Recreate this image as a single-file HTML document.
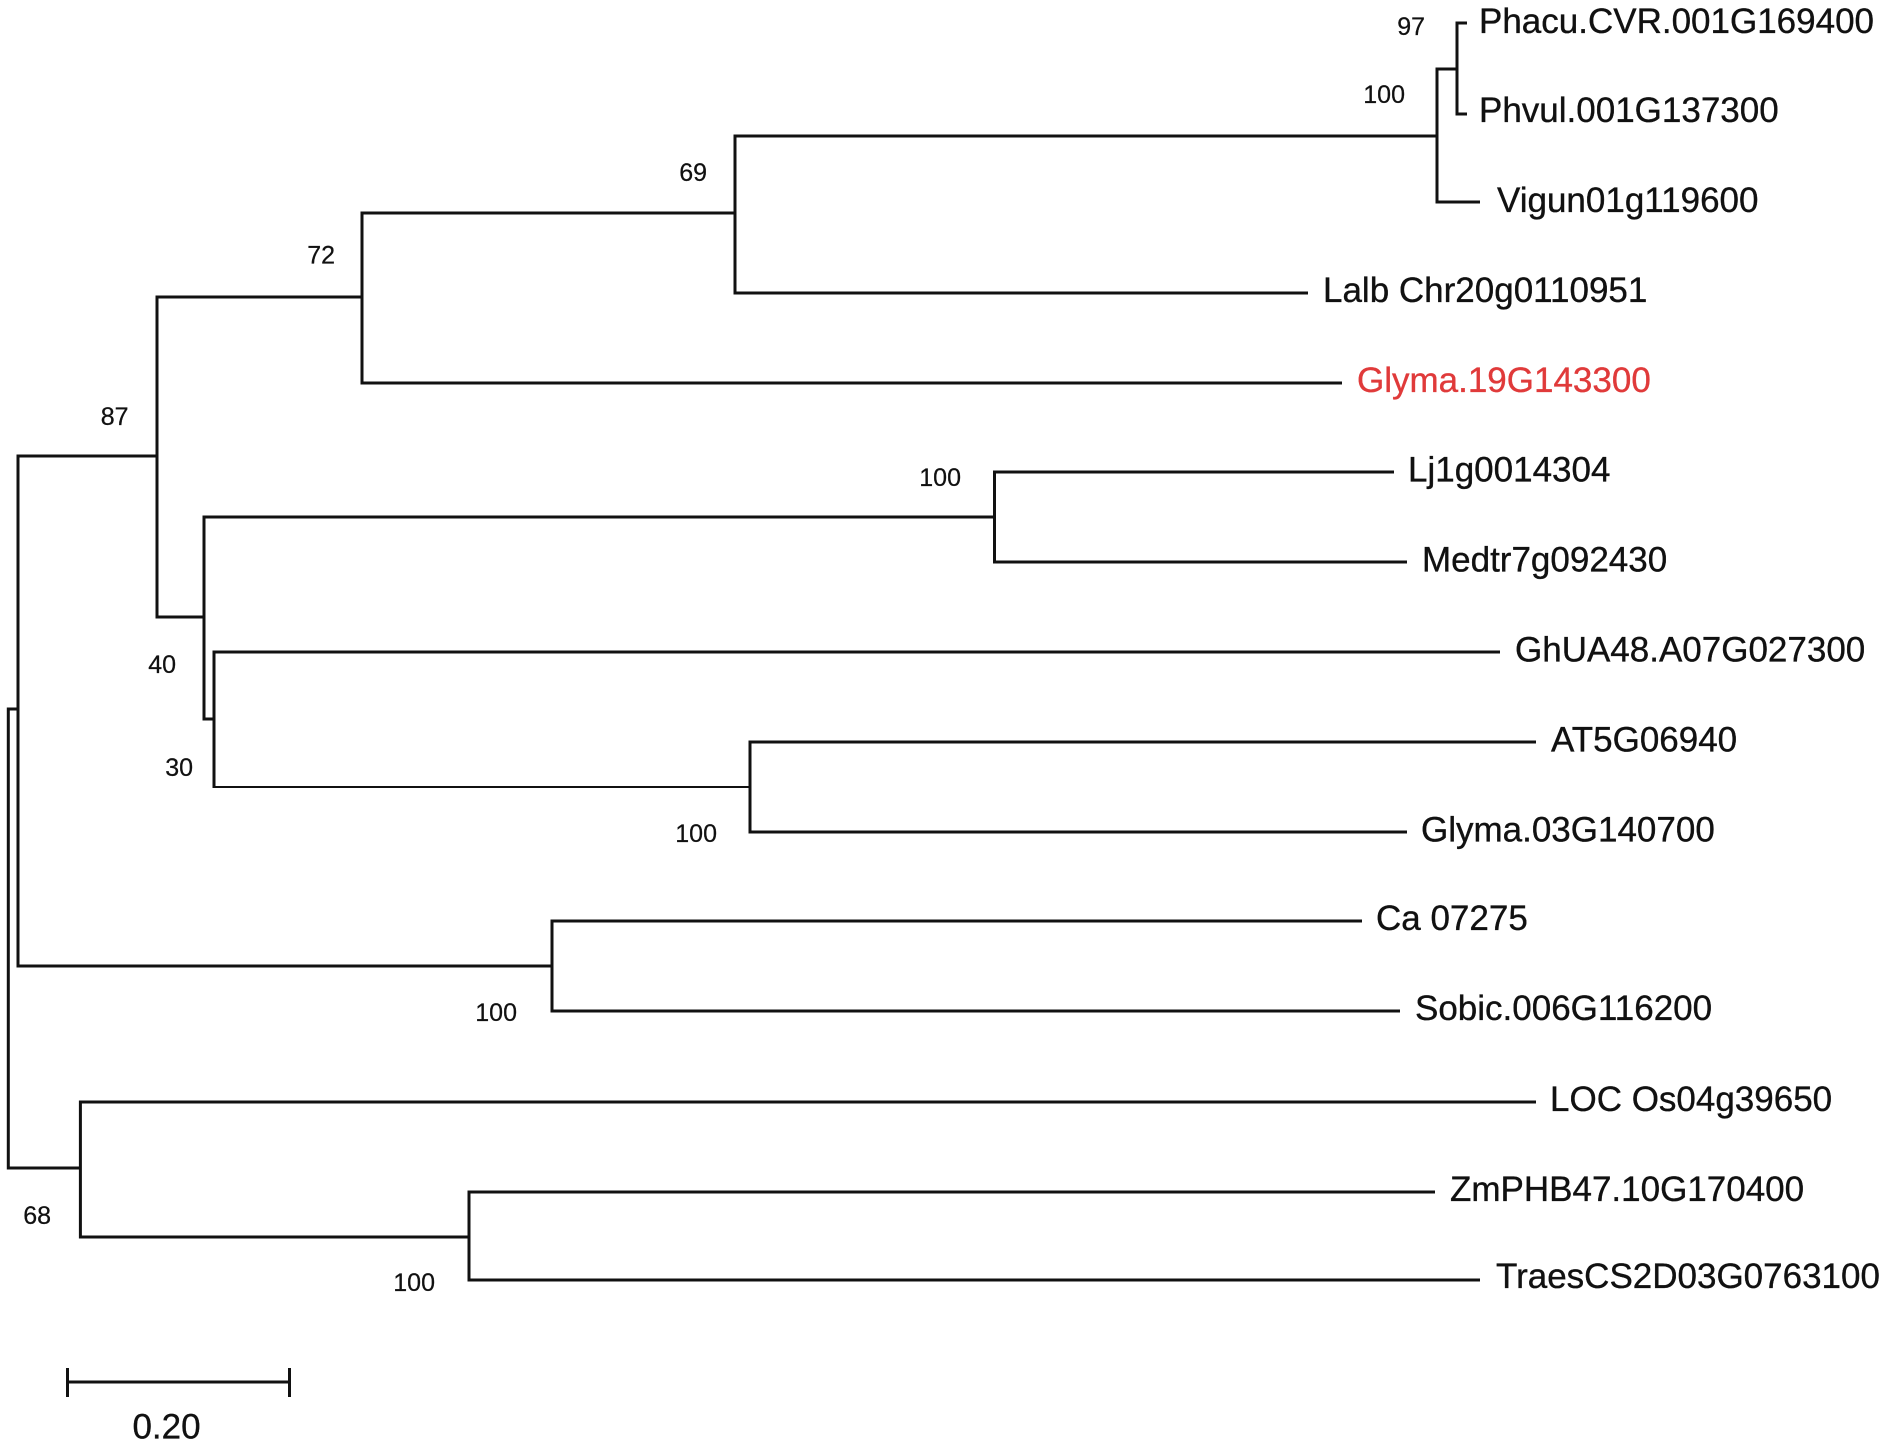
<!DOCTYPE html>
<html>
<head>
<meta charset="utf-8">
<style>
  html, body { margin: 0; padding: 0; background: #fff; }
  svg { display: block; }
  .leaf { font-family: "Liberation Sans", Arial, sans-serif; font-size: 35px; fill: #111; stroke: #111; stroke-width: 0.35; }
  .bs { font-family: "Liberation Sans", Arial, sans-serif; font-size: 25px; fill: #111; text-anchor: end; stroke: #111; stroke-width: 0.25; }
  .br { fill: none; stroke: #111; stroke-width: 3; stroke-linejoin: miter; stroke-linecap: butt; }
</style>
</head>
<body>
<svg width="1890" height="1448" viewBox="0 0 1890 1448" xmlns="http://www.w3.org/2000/svg">
  <rect x="0" y="0" width="1890" height="1448" fill="#fff"/>

  <!-- branches -->
  <path class="br" d="M18,709 H8.3 V1168 H80.4"/>
  <path class="br" d="M157,456 H18 V966 H552"/>
  <path class="br" d="M362,297 H157 V617 H204"/>
  <path class="br" d="M735,213 H362 V383 H1342"/>
  <path class="br" d="M1437,136 H735 V293 H1308"/>
  <path class="br" d="M1457,69 H1437 V202 H1480"/>
  <path class="br" d="M1467,23 H1457 V114 H1467"/>
  <path class="br" d="M994.5,517 H204 V719 H214"/>
  <path class="br" d="M1394,472 H994.5 V562 H1407"/>
  <path class="br" d="M1500,652 H214 V788"/>
  <path class="br" d="M214,787 H750" style="stroke-width:2"/>
  <path class="br" d="M1536,742 H750 V832 H1407"/>
  <path class="br" d="M1362,921 H552 V1011 H1400"/>
  <path class="br" d="M1536,1102 H80.4 V1237 H469"/>
  <path class="br" d="M1435,1192 H469 V1280 H1480"/>

  <!-- leaf labels -->
  <text class="leaf" x="1479" y="33">Phacu.CVR.001G169400</text>
  <text class="leaf" x="1479" y="122">Phvul.001G137300</text>
  <text class="leaf" x="1497" y="212">Vigun01g119600</text>
  <text class="leaf" x="1323" y="302">Lalb Chr20g0110951</text>
  <text class="leaf" x="1357" y="392" style="fill:#e03a3a;stroke:#e03a3a">Glyma.19G143300</text>
  <text class="leaf" x="1408" y="481.5">Lj1g0014304</text>
  <text class="leaf" x="1422" y="571.5">Medtr7g092430</text>
  <text class="leaf" x="1515" y="661.5">GhUA48.A07G027300</text>
  <text class="leaf" x="1551" y="751.5">AT5G06940</text>
  <text class="leaf" x="1421" y="841.5">Glyma.03G140700</text>
  <text class="leaf" x="1376" y="930">Ca 07275</text>
  <text class="leaf" x="1415" y="1020">Sobic.006G116200</text>
  <text class="leaf" x="1550" y="1111">LOC Os04g39650</text>
  <text class="leaf" x="1450" y="1201">ZmPHB47.10G170400</text>
  <text class="leaf" x="1496" y="1288">TraesCS2D03G0763100</text>

  <!-- bootstrap values -->
  <text class="bs" x="1425" y="35">97</text>
  <text class="bs" x="1405" y="103">100</text>
  <text class="bs" x="707" y="181">69</text>
  <text class="bs" x="335" y="263.5">72</text>
  <text class="bs" x="128.5" y="425">87</text>
  <text class="bs" x="961" y="486">100</text>
  <text class="bs" x="176" y="673">40</text>
  <text class="bs" x="193" y="776">30</text>
  <text class="bs" x="717" y="842">100</text>
  <text class="bs" x="517" y="1021">100</text>
  <text class="bs" x="51" y="1224">68</text>
  <text class="bs" x="435" y="1291">100</text>

  <!-- scale bar -->
  <path class="br" d="M67.5,1382 H289.5"/>
  <path class="br" d="M67.5,1368 V1397"/>
  <path class="br" d="M289.5,1368 V1397"/>
  <text class="leaf" x="166.5" y="1438.5" text-anchor="middle">0.20</text>
</svg>
</body>
</html>
